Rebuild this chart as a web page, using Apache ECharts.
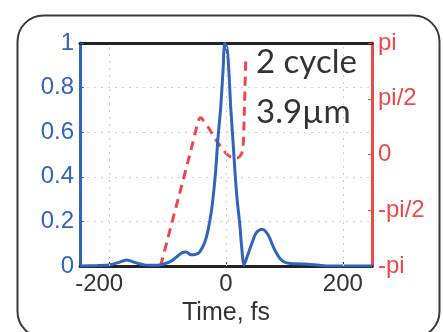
<!DOCTYPE html>
<html>
<head>
<meta charset="utf-8">
<script src="https://cdn.jsdelivr.net/npm/echarts@6/dist/echarts.min.js"></script>
<style>
  html, body { margin: 0; padding: 0; background: #fff; }
  #chart { width: 443px; height: 332px; }
</style>
</head>
<body>
<div id="chart"></div>
<script>
// Intensity envelope (normalized) vs time, fs
const timeFs = [-250, -220, -200, -185, -170, -155, -140, -120, -105, -95, -85, -75, -68, -60, -52, -46, -40, -35, -30, -24, -18, -14, -9, -5, -2, 2, 5, 8, 12, 15.5, 19, 23.5, 27, 31, 36, 44, 52, 62, 72, 82, 92, 102, 120, 140, 160, 180, 250];
const intensity = [0, 0.002, 0.004, 0.015, 0.027, 0.015, 0.005, 0.003, 0.01, 0.02, 0.04, 0.06, 0.063, 0.05, 0.052, 0.06, 0.085, 0.117, 0.17, 0.265, 0.417, 0.565, 0.714, 0.88, 1.0, 0.97, 0.87, 0.714, 0.56, 0.417, 0.3, 0.19, 0.08, 0.005, 0.04, 0.1, 0.15, 0.165, 0.14, 0.08, 0.035, 0.015, 0.01, 0.008, 0.003, 0, 0];

// Phase (in units of pi) vs time, fs
const phaseTimeFs = [-112, -100, -80, -60, -50, -46, -43, -38, -30, -24, -12, 2, 12, 20, 26, 29, 31, 33, 34];
const phaseOverPi = [-1, -0.76, -0.36, 0.04, 0.25, 0.32, 0.33, 0.3, 0.24, 0.19, 0.09, 0, -0.03, -0.03, 0, 0.05, 0.3, 0.7, 0.87];

const timeTicks = [-200, 0, 200];
const phaseLabels = { "-1": "-pi", "-0.5": "-pi/2", "0": "0", "0.5": "pi/2", "1": "pi" };
const noteLines = ["2 cycle", "3.9\u00b5m"];

const blue = "#3164bd";
const red = "#f04848";
const gridLine = { color: "#d0d0d0", type: [2, 5], width: 1 };

const chart = echarts.init(document.getElementById("chart"));

const option = {
  animation: false,
  grid: { left: 80, right: 71, top: 43, bottom: 66 },
  xAxis: [
    {
      type: "value",
      min: -250,
      max: 250,
      position: "bottom",
      name: "Time, fs",
      nameLocation: "middle",
      nameGap: 34,
      nameTextStyle: { fontFamily: "Liberation Sans", fontSize: 25, color: "#333" },
      axisLine: { show: true, onZero: false, lineStyle: { color: "#222", width: 3 } },
      axisTick: { show: true, inside: true, length: 4, customValues: timeTicks, lineStyle: { color: "#222" } },
      axisLabel: {
        margin: 6,
        fontFamily: "Liberation Sans",
        fontSize: 24,
        color: "#333",
        customValues: timeTicks,
        formatter: v => (v < 0 ? "{neg|" + v + "}" : String(v)),
        rich: { neg: { fontFamily: "Liberation Sans", fontSize: 24, color: "#333", padding: [0, 20, 0, 0] } }
      },
      splitLine: { show: false }
    },
    {
      type: "value",
      min: -250,
      max: 250,
      position: "top",
      axisLine: { show: true, onZero: false, lineStyle: { color: "#222", width: 3 } },
      axisTick: { show: false },
      axisLabel: { show: false },
      splitLine: { show: false }
    }
  ],
  yAxis: [
    {
      type: "value",
      min: 0,
      max: 1,
      interval: 0.2,
      position: "left",
      axisLine: { show: true, onZero: false, lineStyle: { color: blue, width: 3 } },
      axisTick: { show: true, inside: true, length: 4, lineStyle: { color: blue } },
      axisLabel: {
        margin: 6,
        fontFamily: "Liberation Sans",
        fontSize: 24,
        color: blue,
        formatter: v => (v === 0 || v === 1 ? String(v) : v.toFixed(1))
      },
      splitLine: { show: true, lineStyle: gridLine }
    },
    {
      type: "value",
      min: -1,
      max: 1,
      interval: 0.5,
      position: "right",
      axisLine: { show: true, onZero: false, lineStyle: { color: red, width: 3 } },
      axisTick: { show: true, inside: true, length: 4, lineStyle: { color: red } },
      axisLabel: {
        margin: 6,
        fontFamily: "Liberation Sans",
        fontSize: 24,
        color: red,
        formatter: v => phaseLabels[String(v)] || ""
      },
      splitLine: { show: false }
    }
  ],
  series: [
    {
      name: "phase",
      type: "line",
      yAxisIndex: 1,
      smooth: 0.2,
      showSymbol: false,
      lineStyle: { color: red, width: 3, type: [9, 6] },
      data: phaseTimeFs.map((t, i) => [t, phaseOverPi[i]]),
      z: 3
    },
    {
      name: "intensity",
      type: "line",
      smooth: 0.3,
      showSymbol: false,
      lineStyle: { color: blue, width: 3 },
      itemStyle: { color: blue },
      data: timeFs.map((t, i) => [t, intensity[i]]),
      // vertical dotted grid lines at the x ticks
      markLine: {
        silent: true,
        symbol: "none",
        label: { show: false },
        lineStyle: gridLine,
        emphasis: { disabled: true },
        data: timeTicks.map(t => ({ xAxis: t, lineStyle: gridLine }))
      },
      z: 4
    }
  ],
  graphic: [
    {
      type: "rect",
      left: 15,
      top: 13,
      shape: { width: 422, height: 322, r: 26 },
      style: { fill: "none", stroke: "#3a3a3a", lineWidth: 2 },
      z: 10
    },
    {
      type: "text",
      left: 256,
      top: 46,
      style: { text: noteLines[0], font: "33px Lato", fill: "#333" },
      z: 10
    },
    {
      type: "text",
      left: 256,
      top: 96,
      style: { text: noteLines[1], font: "33px Lato", fill: "#333" },
      z: 10
    }
  ]
};

chart.setOption(option);
</script>
</body>
</html>
